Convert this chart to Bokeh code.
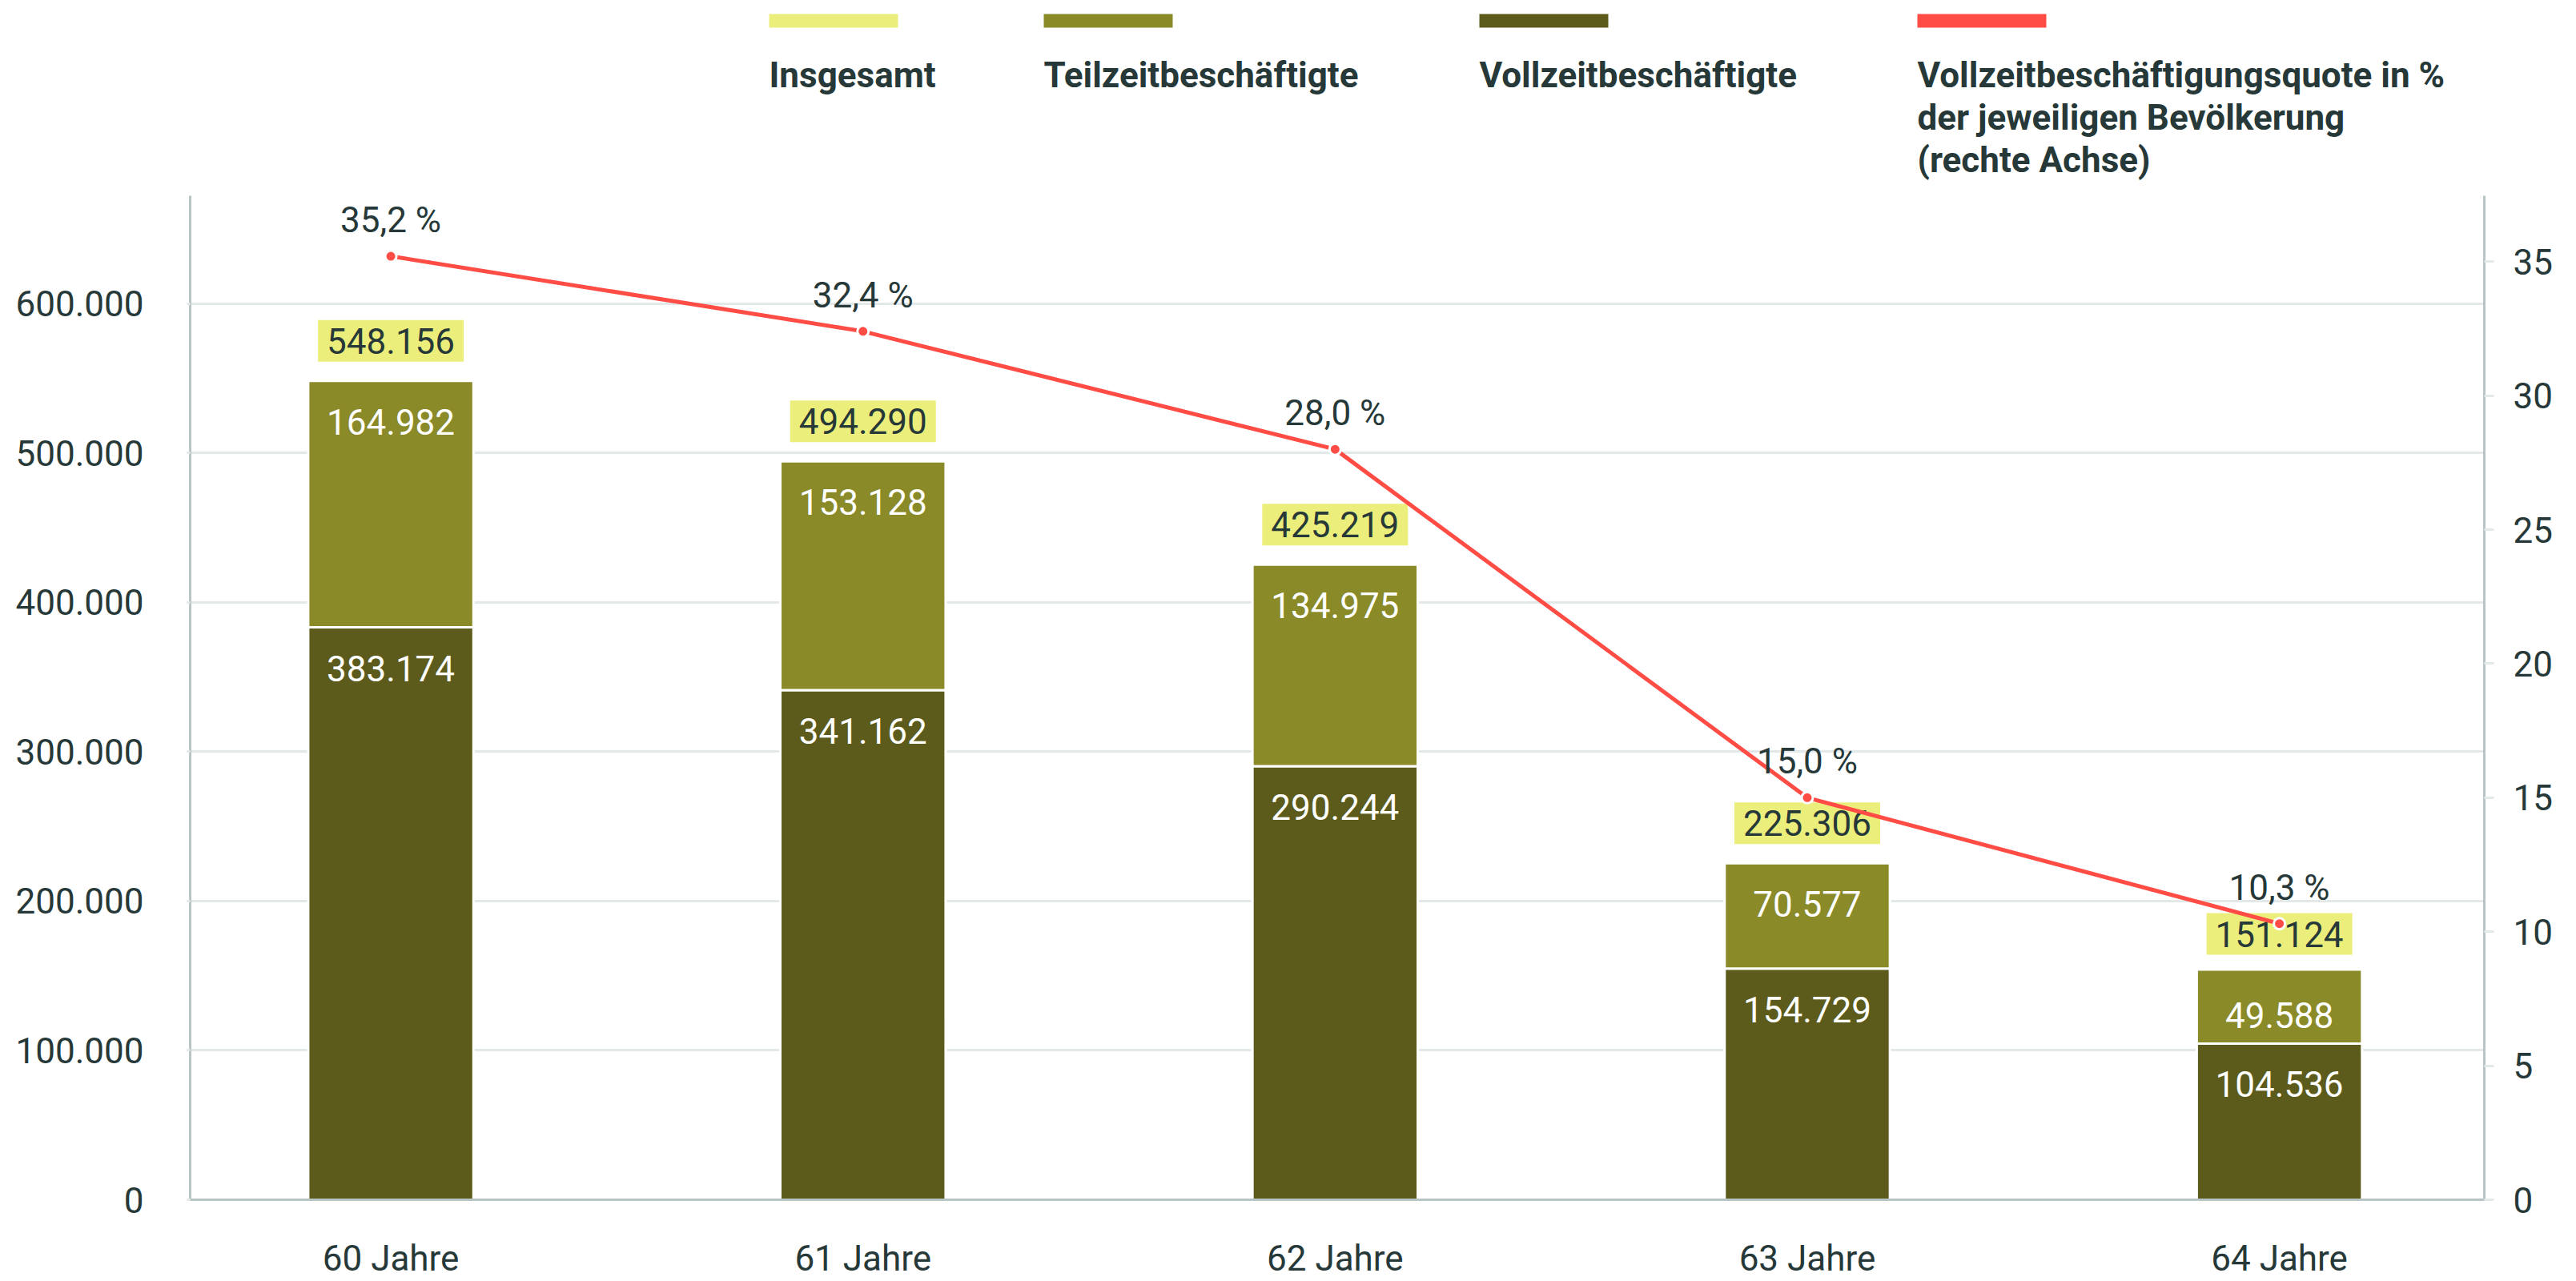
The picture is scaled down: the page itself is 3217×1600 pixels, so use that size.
from bokeh.plotting import figure
from bokeh.models import Range1d, LinearAxis, FixedTicker, ColumnDataSource
from bokeh.embed import file_html
from bokeh.resources import INLINE
from bokeh.core.properties import value

# ---------------- data ----------------
categories = ["60 Jahre", "61 Jahre", "62 Jahre", "63 Jahre", "64 Jahre"]
vollzeit = [383174, 341162, 290244, 154729, 104536]
teilzeit = [164982, 153128, 134975, 70577, 49588]
insgesamt = [548156, 494290, 425219, 225306, 151124]
quote = [35.2, 32.4, 28.0, 15.0, 10.3]
left_ticks = [0, 100000, 200000, 300000, 400000, 500000, 600000]
right_ticks = [0, 5, 10, 15, 20, 25, 30, 35]
legend_labels = [
    "Insgesamt",
    "Teilzeitbeschäftigte",
    "Vollzeitbeschäftigte",
    "Vollzeitbeschäftigungsquote in %\nder jeweiligen Bevölkerung\n(rechte Achse)",
]

# ---------------- style / layout ----------------
C_TOTAL = "#ECEE7B"
C_TEIL = "#8A8A29"
C_VOLL = "#5C5B1C"
C_RED = "#FF4C45"
C_TEXT = "#263838"
C_AXIS = "#B9C5C5"
C_GRID = "#E3E8E8"
FONT = "Roboto"
FS = "44px"

W, H = 3217, 1600              # figure size (page origin at 0, 0)
FRAME_L, FRAME_R = 237, 3102   # page x of the plot frame
FRAME_B = 1499                 # page y of the zero line
PX_100K = 186.7                # pixels per 100.000 on the left axis
PX_PCT = 33.5                  # pixels per percentage point on the right axis
LEFT_MAX = 672000              # top of the visible left axis
RIGHT_MAX = 37.45              # top of the visible right axis

y_end = FRAME_B / PX_100K * 100000
pct_end = FRAME_B / PX_PCT


def de(n):
    return f"{n:,}".replace(",", ".")


xs = list(range(len(categories)))
src = ColumnDataSource(dict(
    x=xs,
    voll=vollzeit,
    teil=teilzeit,
    total=insgesamt,
    quote=quote,
    voll_lbl=[de(v) for v in vollzeit],
    teil_lbl=[de(v) for v in teilzeit],
    total_lbl=[de(v) for v in insgesamt],
    quote_lbl=[f"{q:.1f}".replace(".", ",") + " %" for q in quote],
))

p = figure(width=W, height=H,
           x_range=Range1d(-0.425, 4.434), y_range=Range1d(0, y_end),
           output_backend="svg", toolbar_location=None,
           min_border_left=FRAME_L, min_border_right=W - FRAME_R,
           min_border_top=0, min_border_bottom=H - FRAME_B,
           outline_line_color=None)
p.extra_y_ranges = {"pct": Range1d(0, pct_end), "pagey": Range1d(FRAME_B, 0)}
p.extra_x_ranges = {"pagex": Range1d(FRAME_L, FRAME_R)}

# ---------------- bars ----------------
p.vbar_stack(["voll", "teil"], x="x", width=0.35, color=[C_VOLL, C_TEIL],
             line_color="white", line_width=3, source=src)

common = dict(text_font=value(FONT), text_font_size=FS, text_align="center",
              text_baseline="middle", source=src)
p.text(x="x", y="voll", text="voll_lbl", y_offset=51, text_color="white", **common)
p.text(x="x", y="total", text="teil_lbl", y_offset=51, text_color="white", **common)
p.text(x="x", y="total", text="total_lbl", y_offset=-50, text_color=C_TEXT,
       background_fill_color=C_TOTAL,
       padding=dict(left=11, right=11, top=10, bottom=10), **common)

# ---------------- line ----------------
p.line(x="x", y="quote", y_range_name="pct", line_color=C_RED, line_width=5, source=src)
p.scatter(x="x", y="quote", y_range_name="pct", size=14, fill_color=C_RED,
          line_color="white", line_width=3, source=src)
p.text(x="x", y="quote", text="quote_lbl", y_range_name="pct", y_offset=-45,
       text_color=C_TEXT, **common)

# ---------------- legend (swatches above labels) ----------------
leg_x = [960, 1303, 1847, 2394]
leg_colors = [C_TOTAL, C_TEIL, C_VOLL, C_RED]
p.quad(left=leg_x, right=[v + 161 for v in leg_x], top=[17] * 4, bottom=[34] * 4,
       fill_color=leg_colors, line_color=None,
       x_range_name="pagex", y_range_name="pagey")
lx, ly, lt = [], [], []
for x0, lab in zip(leg_x, legend_labels):
    for i, line in enumerate(lab.split("\n")):
        lx.append(x0)
        ly.append(94 + 53 * i)
        lt.append(line)
p.text(x=lx, y=ly, text=lt, text_font=value(FONT), text_font_size=FS,
       text_font_style="bold", text_color=C_TEXT, text_align="left",
       text_baseline="alphabetic", x_range_name="pagex", y_range_name="pagey")

# ---------------- axes ----------------
xa = p.xaxis[0]
xa.ticker = FixedTicker(ticks=xs)
xa.major_label_overrides = {i: c for i, c in zip(xs, categories)}
xa.major_label_standoff = 41

ya = p.yaxis[0]
ya.ticker = FixedTicker(ticks=left_ticks)
ya.major_label_overrides = {t: de(t) for t in left_ticks}
ya.bounds = (0, LEFT_MAX)

ra = LinearAxis(y_range_name="pct", ticker=FixedTicker(ticks=right_ticks),
                bounds=(0, RIGHT_MAX))
p.add_layout(ra, "right")

for ax in (xa, ya, ra):
    ax.axis_line_color = C_AXIS
    ax.axis_line_width = 3
    ax.major_tick_line_color = None
    ax.minor_tick_line_color = None
    ax.major_label_text_font = FONT
    ax.major_label_text_font_size = FS
    ax.major_label_text_color = C_TEXT

ya.major_tick_line_color = C_GRID
ya.major_tick_line_width = 3
ya.major_tick_in = 0
ya.major_tick_out = 4
ya.major_label_standoff = 54

ra.major_tick_line_color = C_GRID
ra.major_tick_line_width = 3
ra.major_tick_in = 0
ra.major_tick_out = 12
ra.major_label_standoff = 24

p.xgrid.visible = False
p.ygrid.grid_line_color = C_GRID
p.ygrid.grid_line_width = 3

open("out.html", "w").write(file_html(p, INLINE))
